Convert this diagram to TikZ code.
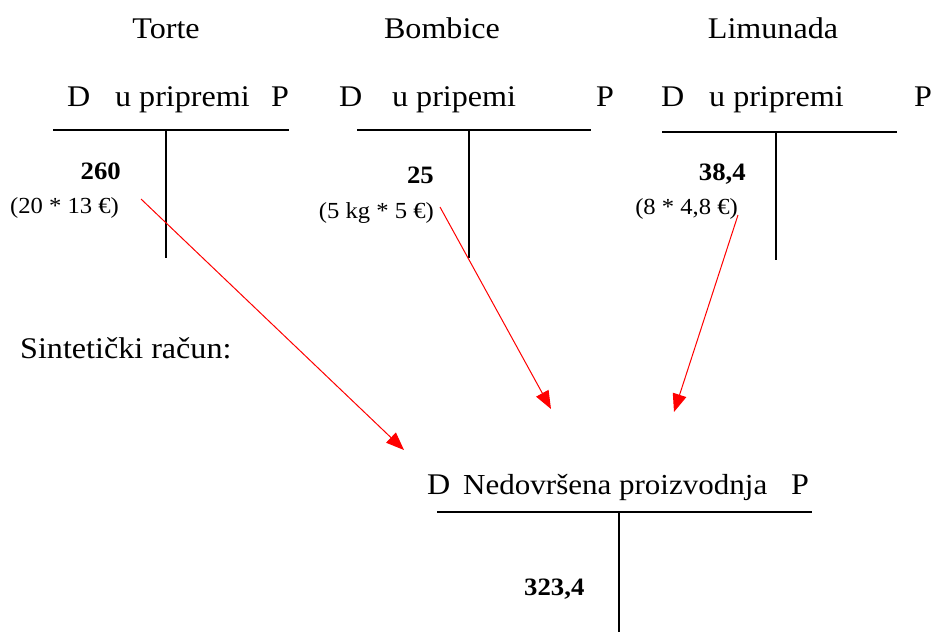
\documentclass[tikz,border=0pt]{standalone}
\usepackage{fontspec}
\setmainfont[FakeStretch=1.07]{Liberation Serif}
\usetikzlibrary{arrows.meta}
\tikzset{
  big/.style={inner sep=0pt, font=\fontsize{30}{34}\selectfont},
  small/.style={inner sep=0pt, font=\fontsize{23}{26}\selectfont},
  num/.style={inner sep=0pt, font=\fontsize{25}{28}\selectfont\bfseries},
  tline/.style={line width=1.3pt, black},
  redarrow/.style={red, line width=1pt, -{Triangle[length=18pt,width=14pt]}}
}
\begin{document}
\begin{tikzpicture}[x=1pt,y=-1pt]
\useasboundingbox (0,0) rectangle (937,632);
% titles
\node[big, anchor=base] (t1) at (166,38) {Torte};
\node[big, anchor=base] (t2) at (442,38) {Bombice};
\node[big, anchor=base] (t3) at (773,38) {Limunada};
% account headers
\node[big, anchor=base west] (d1) at (67,106) {D};
\node[big, anchor=base west] (u1) at (115,106) {u pripremi};
\node[big, anchor=base west] (p1) at (271,106) {P};
\node[big, anchor=base west] (d2) at (339,106) {D};
\node[big, anchor=base west] (u2) at (392,106) {u pripemi};
\node[big, anchor=base west] (p2) at (596,106) {P};
\node[big, anchor=base west] (d3) at (661,106) {D};
\node[big, anchor=base west] (u3) at (709,106) {u pripremi};
\node[big, anchor=base west] (p3) at (914,106) {P};
% T lines
\coordinate (h1a) at (53,130); \coordinate (h1b) at (289,130);
\coordinate (v1a) at (166,130); \coordinate (v1b) at (166,258);
\draw[tline] (h1a) -- (h1b); \draw[tline] (v1a) -- (v1b);
\coordinate (h2a) at (357,130); \coordinate (h2b) at (591,130);
\coordinate (v2a) at (469,130); \coordinate (v2b) at (469,258);
\draw[tline] (h2a) -- (h2b); \draw[tline] (v2a) -- (v2b);
\coordinate (h3a) at (662,132); \coordinate (h3b) at (897,132);
\coordinate (v3a) at (776,132); \coordinate (v3b) at (776,260);
\draw[tline] (h3a) -- (h3b); \draw[tline] (v3a) -- (v3b);
% amounts
\node[num, anchor=base east] (n1) at (121,179) {260};
\node[small, anchor=base east] (c1) at (119,213) {(20 * 13 €)};
\node[num, anchor=base east] (n2) at (434,183) {25};
\node[small, anchor=base east] (c2) at (434,218) {(5 kg * 5 €)};
\node[num, anchor=base east] (n3) at (746,180) {38,4};
\node[small, anchor=base east] (c3) at (738,214) {(8 * 4,8 €)};
% synthetic
\node[big, anchor=base west] (s) at (20,358) {Sintetički račun:};
\node[big, anchor=base west] (nd) at (427,494) {D};
\node[big, anchor=base west, font=\fontsize{29}{33}\selectfont] (nn) at (463,494) {Nedovršena proizvodnja};
\node[big, anchor=base west] (np) at (791,494) {P};
\coordinate (h4a) at (437,512); \coordinate (h4b) at (812,512);
\coordinate (v4a) at (619,512); \coordinate (v4b) at (619,632);
\draw[tline] (h4a) -- (h4b); \draw[tline] (v4a) -- (v4b);
\node[num, anchor=base west] (n4) at (524,595) {323,4};
% arrows
\coordinate (a1s) at (141,199); \coordinate (a1e) at (404,450);
\coordinate (a2s) at (440,207); \coordinate (a2e) at (551,409);
\coordinate (a3s) at (738,215); \coordinate (a3e) at (674,412);
\draw[redarrow] (a1s) -- (a1e);
\draw[redarrow] (a2s) -- (a2e);
\draw[redarrow] (a3s) -- (a3e);
\end{tikzpicture}
\end{document}
